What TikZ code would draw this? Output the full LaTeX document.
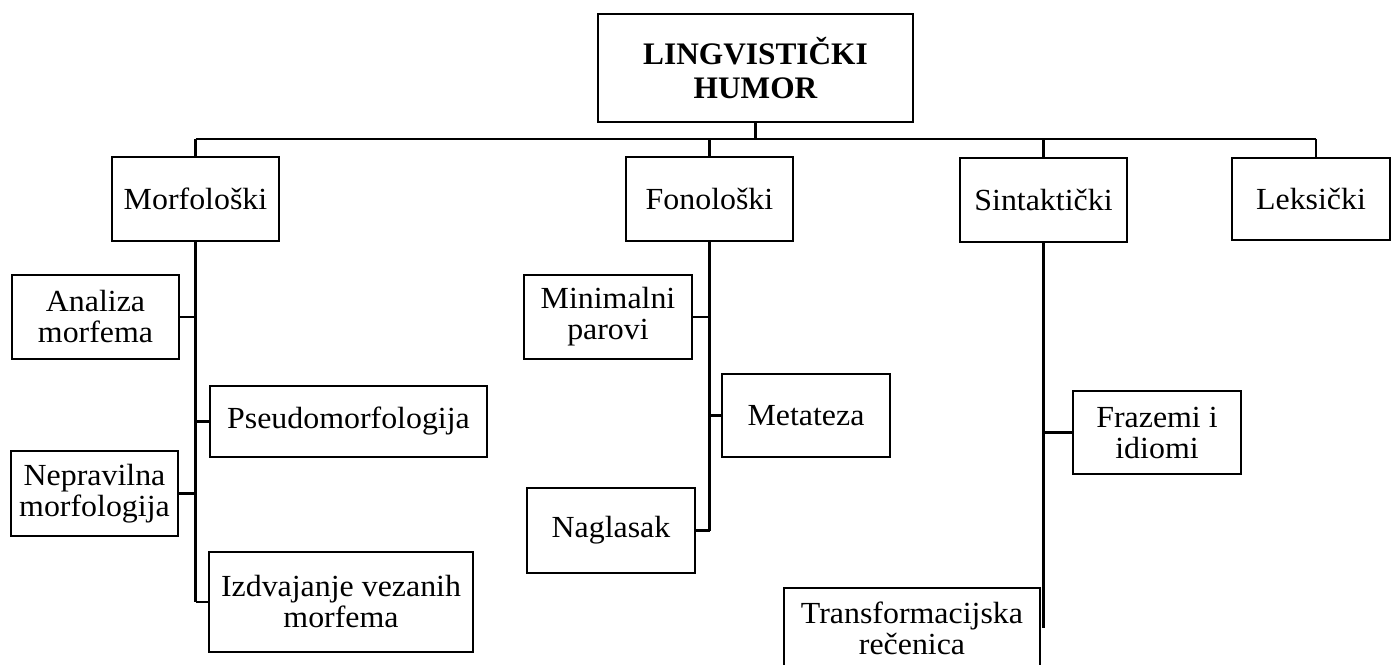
\documentclass[tikz,border=0pt]{standalone}
\usepackage{fontspec}
\setmainfont{Liberation Serif}[FakeStretch=1.04]
\newfontfamily\rootfont{Liberation Serif}
\begin{document}
\begin{tikzpicture}[x=0.75pt,y=-0.75pt,
  box/.style={draw, line width=1.9pt, inner sep=0pt, align=center, anchor=center,
    font=\fontsize{23}{23.25}\selectfont},
  sz/.style 2 args={minimum width=#1*0.75pt, minimum height=#2*0.75pt},
  rootbox/.style={box, font=\rootfont\bfseries\fontsize{23.5}{25.5}\selectfont},
  conn/.style={line width=1.9pt}]
\useasboundingbox (0,0) rectangle (1391,664);
% root
\node[rootbox, sz={315}{108}] (root) at (755.5,68) {LINGVISTIČKI\\HUMOR};
% level 1
\node[box, sz={167}{84}] (morf) at (195.5,199) {Morfološki};
\node[box, sz={167}{84}] (fono) at (709.5,199) {Fonološki};
\node[box, sz={167}{84}] (sint) at (1043.5,200) {Sintaktički};
\node[box, sz={158}{82}] (leks) at (1311,199) {Leksički};
% morfoloski children
\node[box, sz={167}{84}] (analiza) at (95.5,317) {Analiza\\morfema};
\node[box, sz={277}{71}] (pseudo) at (348.5,421.5) {Pseudomorfologija};
\node[box, sz={167}{85}] (neprav) at (94.5,493.5) {Nepravilna\\morfologija};
\node[box, sz={264}{100}] (izdv) at (341,602) {Izdvajanje vezanih\\morfema};
% fonoloski children
\node[box, sz={168}{84}] (minimal) at (608,317) {Minimalni\\parovi};
\node[box, sz={168}{83}] (metateza) at (806,415.5) {Metateza};
\node[box, sz={168}{85}] (naglasak) at (611,530.5) {Naglasak};
% sintakticki children
\node[box, sz={168}{83}] (frazemi) at (1157,432.5) {Frazemi i\\idiomi};
\node[box, sz={256}{80}] (transf) at (912,628) {Transformacijska\\rečenica};
% connector points
\coordinate (hub) at (755.5,139);
\coordinate (hl) at (195.5,139);
\coordinate (hr) at (1316,139);
\coordinate (sintend) at (1043.5,628);
% tree connectors
\draw[conn] (root.south) -- (hub);
\draw[conn] (hl) -- (hr);
\draw[conn] (hl) -- (morf.north);
\draw[conn] (fono.north |- hub) -- (fono.north);
\draw[conn] (sint.north |- hub) -- (sint.north);
\draw[conn] (hr) -- (hr |- leks.north);
% morfoloski
\draw[conn] (morf.south) -- (morf.south |- izdv.west);
\draw[conn] (analiza.east) -- (analiza.east -| morf.south);
\draw[conn] (pseudo.west) -- (pseudo.west -| morf.south);
\draw[conn] (neprav.east) -- (neprav.east -| morf.south);
\draw[conn] (izdv.west) -- (izdv.west -| morf.south);
% fonoloski
\draw[conn] (fono.south) -- (fono.south |- naglasak.east);
\draw[conn] (minimal.east) -- (minimal.east -| fono.south);
\draw[conn] (metateza.west) -- (metateza.west -| fono.south);
\draw[conn] (naglasak.east) -- (naglasak.east -| fono.south);
% sintakticki
\draw[conn] (sint.south) -- (sintend);
\draw[conn] (frazemi.west) -- (frazemi.west -| sint.south);
\end{tikzpicture}
\end{document}
